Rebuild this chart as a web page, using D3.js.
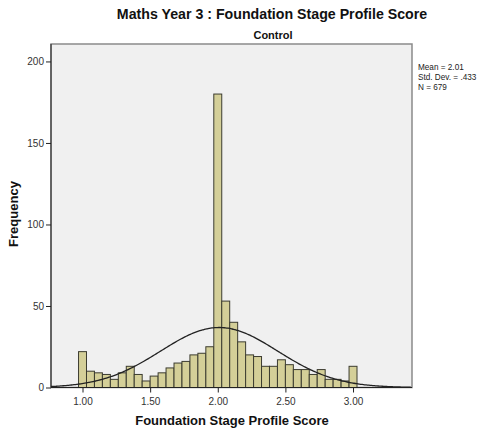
<!DOCTYPE html>
<html>
<head>
<meta charset="utf-8">
<script src="https://cdn.jsdelivr.net/npm/d3@7"></script>
<style>
  body { margin: 0; background: #fff; }
  svg text { font-family: "Liberation Sans", Arial, sans-serif; }
</style>
</head>
<body>
<div id="chart"></div>
<script>
// histogram bins (centres) and counts
const binWidth = 1 / 17;
const binCentres = d3.range(35).map(i => 1 + i / 17);
const counts = [22, 10, 9, 8, 5, 9, 13, 8, 4, 7, 9, 12, 15, 16, 20, 21, 25,
                180, 53, 40, 28, 20, 19, 13, 13, 17, 14, 11, 11, 8, 11, 5, 5, 4, 13];
const xTicks = [1.0, 1.5, 2.0, 2.5, 3.0];
const yTicks = [0, 50, 100, 150, 200];
const stats = ["Mean = 2.01", "Std. Dev. = .433", "N = 679"];
const mean = 2.01, sd = 0.433, n = 679;

const w = 486, h = 432;
const plotL = 51, plotR = 412, plotT = 44, plotB = 387.5;

const svg = d3.select("#chart").append("svg")
    .attr("width", w)
    .attr("height", h);

const x = d3.scaleLinear().domain([0.767, 3.436]).range([plotL, plotR]);
const y = d3.scaleLinear().domain([0, 210.7]).range([plotB, plotT]);

// plot background
svg.append("rect")
    .attr("x", plotL).attr("y", plotT)
    .attr("width", plotR - plotL).attr("height", plotB - plotT)
    .style("fill", "#f0f0f0")
    .style("stroke", "#8a8a8a")
    .style("stroke-width", 1.5);

// bars
svg.selectAll("rect.bar")
    .data(binCentres)
    .enter()
    .append("rect")
    .attr("class", "bar")
    .attr("x", d => x(d - binWidth / 2))
    .attr("y", (d, i) => y(counts[i]))
    .attr("width", d => x(d + binWidth / 2) - x(d - binWidth / 2))
    .attr("height", (d, i) => y(0) - y(counts[i]))
    .style("fill", "#d4cf98")
    .style("stroke", "#3c3c30")
    .style("stroke-width", 1);

// normal curve
const curvePts = d3.range(0.767, 3.437, 0.01).map(v => {
    const dens = Math.exp(-0.5 * Math.pow((v - mean) / sd, 2)) / (sd * Math.sqrt(2 * Math.PI));
    return [v, dens * n * binWidth];
});
svg.append("path")
    .datum(curvePts)
    .attr("d", d3.line().x(d => x(d[0])).y(d => y(d[1])).curve(d3.curveBasis))
    .style("fill", "none")
    .style("stroke", "#222")
    .style("stroke-width", 1.3);

// axes
const xAxis = svg.append("g")
    .attr("transform", `translate(0,${plotB})`)
    .call(d3.axisBottom(x).tickValues(xTicks).tickFormat(d3.format(".2f")).tickSizeOuter(0).tickSize(5));
const yAxis = svg.append("g")
    .attr("transform", `translate(${plotL},0)`)
    .call(d3.axisLeft(y).tickValues(yTicks).tickSizeOuter(0).tickSize(5).tickPadding(2));

[xAxis, yAxis].forEach(a => {
    a.select(".domain").remove();
    a.selectAll("line").style("stroke", "#222");
    a.selectAll("text").style("font-size", "10px").style("fill", "#333")
        .style("font-family", "'Liberation Sans', Arial, sans-serif");
});
xAxis.selectAll("text").attr("dy", "0.9em");

svg.append("line")
    .attr("x1", plotL).attr("x2", plotL).attr("y1", plotT).attr("y2", plotB)
    .style("stroke", "#222");
svg.append("line")
    .attr("x1", plotL).attr("x2", plotR).attr("y1", plotB).attr("y2", plotB)
    .style("stroke", "#222");

// titles
svg.append("text")
    .attr("x", 272).attr("y", 19)
    .attr("text-anchor", "middle")
    .style("font-size", "14.2px").style("font-weight", "bold").style("fill", "#111")
    .text("Maths Year 3 : Foundation Stage Profile Score");

svg.append("text")
    .attr("x", 273).attr("y", 39)
    .attr("text-anchor", "middle")
    .style("font-size", "11px").style("font-weight", "bold").style("fill", "#111")
    .text("Control");

svg.append("text")
    .attr("x", 232).attr("y", 425)
    .attr("text-anchor", "middle")
    .style("font-size", "13px").style("font-weight", "bold").style("fill", "#111")
    .text("Foundation Stage Profile Score");

svg.append("text")
    .attr("transform", "translate(18,214) rotate(-90)")
    .attr("text-anchor", "middle")
    .style("font-size", "13px").style("font-weight", "bold").style("fill", "#111")
    .text("Frequency");

// stats legend
svg.selectAll("text.stat")
    .data(stats)
    .enter()
    .append("text")
    .attr("class", "stat")
    .attr("x", 418)
    .attr("y", (d, i) => 70 + 9.8 * i)
    .style("font-size", "8.2px").style("fill", "#222")
    .text(d => d);
</script>
</body>
</html>
